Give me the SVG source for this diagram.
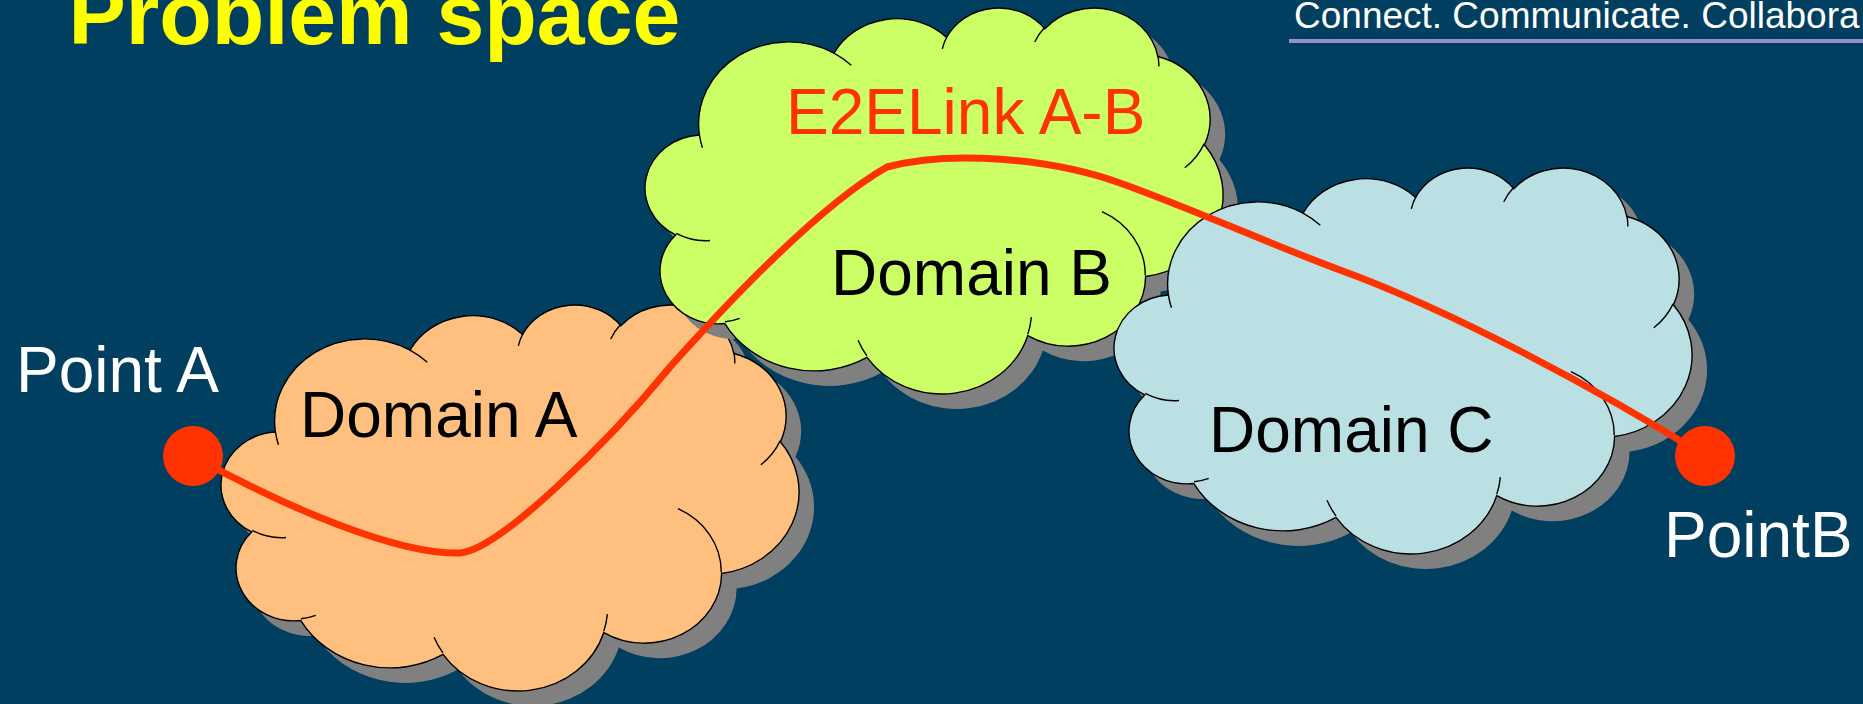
<svg xmlns="http://www.w3.org/2000/svg" xmlns:xlink="http://www.w3.org/1999/xlink" width="1863" height="704" viewBox="0 0 1863 704">
<style>
text { font-family: 'Liberation Sans', Arial, sans-serif; }
.lbl { font-size: 64px; }
.white { fill: #FFFFFF; }
.black { fill: #000000; }
.shadow { fill: #808080; stroke: none; }
.outline { stroke: #000000; }
.inner { fill: none; stroke: #000000; }
.link { fill: none; stroke: #FF3300; stroke-width: 7; stroke-linecap: round; stroke-linejoin: round; }
.dot { fill: #FF3300; }
</style>
<defs>
<path id="cloud" vector-effect="non-scaling-stroke" stroke-width="1.4" d="M3900 14370 A6753 9190 0 0 1 14005 5202 A5333 7267 0 0 1 22459 3434 A4365 5945 0 0 1 29836 2483 A4857 6595 0 0 1 38321 5578 A5333 7273 0 0 1 41822 15462 A6775 9220 0 0 1 37407 30204 A5785 7867 0 0 1 28559 36815 A6752 9215 0 0 1 16484 39267 A7720 10543 0 0 1 5807 35472 A4360 5918 0 0 1 2115 25552 A4345 5945 0 0 1 3900 14370 Z"/>
<path id="cloudInner" vector-effect="non-scaling-stroke" stroke-width="1.4" d="M4693 26177 A4345 5945 0 0 1 2160 25380 M6928 34899 A4360 5918 0 0 1 5820 35280 M16478 39090 A6752 9215 0 0 1 15810 37348 M28827 34751 A6752 9215 0 0 1 28560 36660 M34129 22954 A5785 7867 0 0 1 37380 30089 M41798 15354 A5333 7273 0 0 1 40350 18030 M38324 5426 A4857 6595 0 0 1 38401 6690 M29078 3952 A4857 6595 0 0 1 29820 2338 M22141 4720 A4365 5945 0 0 1 22500 3330 M14000 5192 A6753 9190 0 0 1 15303 6545 M4127 15789 A6753 9190 0 0 1 3900 14371"/>
</defs>
<rect x="0" y="0" width="1863" height="704" fill="#003F5F"/>

<g id="title">
<text x="68.5" y="44" font-size="86" font-weight="bold" fill="#FFFF00">Problem space</text>
</g>
<g id="header">
<text x="1294" y="27.5" font-size="37" class="white">Connect. Communicate. Collabora</text>
<rect x="1289" y="39" width="574" height="4" fill="#9B8EC6"/>
</g>

<g id="domain-a">
<use xlink:href="#cloud" class="shadow" transform="translate(238.5 318.7) scale(0.013316 0.0089317)"/>
<use xlink:href="#cloud" class="outline" fill="#FFBF7F" transform="translate(223.5 303.7) scale(0.013316 0.0089317)"/>
<use xlink:href="#cloudInner" class="inner" transform="translate(223.5 303.7) scale(0.013316 0.0089317)"/>
<text x="300" y="437" class="lbl black">Domain A</text>
</g>

<g id="domain-b">
<use xlink:href="#cloud" class="shadow" transform="translate(662.5 21.7) scale(0.013316 0.0089317)"/>
<use xlink:href="#cloud" class="outline" fill="#CCFF66" transform="translate(647.5 6.7) scale(0.013316 0.0089317)"/>
<use xlink:href="#cloudInner" class="inner" transform="translate(647.5 6.7) scale(0.013316 0.0089317)"/>
<text x="831" y="295" class="lbl black">Domain B</text>
<text x="786" y="134" class="lbl" fill="#FF3300">E2ELink A-B</text>
</g>

<g id="domain-c">
<use xlink:href="#cloud" class="shadow" transform="translate(1131.5 181.7) scale(0.013316 0.0089317)"/>
<use xlink:href="#cloud" class="outline" fill="#BBE0E3" transform="translate(1116.5 166.7) scale(0.013316 0.0089317)"/>
<use xlink:href="#cloudInner" class="inner" transform="translate(1116.5 166.7) scale(0.013316 0.0089317)"/>
<text x="1209" y="452" class="lbl black">Domain C</text>
</g>

<g id="connectors">
<path class="link" d="M193 456 C290 510 400 555 460 553 C500 550 610 440 670 367 C730 300 820 205 887 167 C950 150 1050 158 1120 183 C1190 208 1280 248 1340 270 C1450 310 1600 390 1705 456"/>
</g>

<g id="point-a">
<circle class="dot" cx="193" cy="456" r="30"/>
<text x="16" y="392" class="lbl white">Point A</text>
</g>

<g id="point-b">
<circle class="dot" cx="1705" cy="456" r="30"/>
<text x="1664" y="557" class="lbl white">PointB</text>
</g>
</svg>
